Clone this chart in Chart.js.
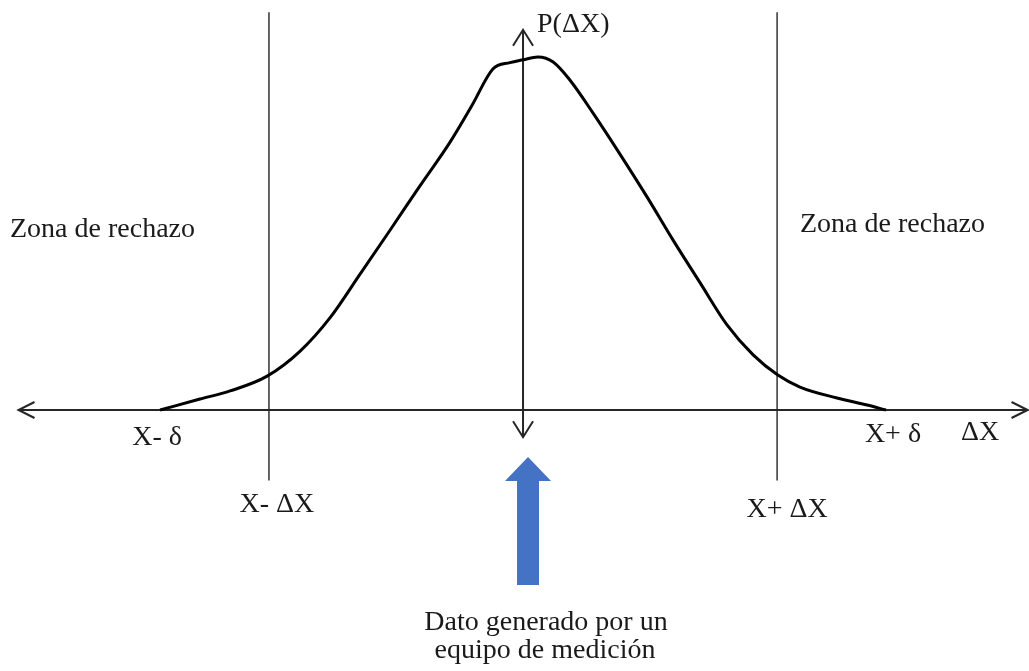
<!DOCTYPE html>
<html>
<head>
<meta charset="utf-8">
<script src="https://cdn.jsdelivr.net/npm/chart.js@4/dist/chart.umd.min.js"></script>
<style>
  html, body { margin: 0; padding: 0; background: #fff; }
  canvas { display: block; }
</style>
</head>
<body>
<canvas id="dist" width="1029" height="671"></canvas>
<script>
// tolerance limits (units of ΔX axis)
var delta = 10;
var deltaX = 7;

// probability curve P(ΔX)
var curveX = [-10, -8.9, -8.07, -7.05, -6.14, -5.32, -4.49, -3.66, -2.84, -2.01, -1.40, -0.83, -0.36, 0, 0.41,
              0.83, 1.29, 1.93, 2.67, 3.42, 4.13, 4.88, 5.62, 6.34, 7.02, 7.63, 8.65, 9.48, 10];
var curveY = [0, 0.031, 0.054, 0.096, 0.167, 0.261, 0.385, 0.510, 0.635, 0.759, 0.864, 0.966, 0.984, 0.992, 1.0,
              0.986, 0.935, 0.841, 0.725, 0.603, 0.482, 0.360, 0.241, 0.156, 0.099, 0.065, 0.034, 0.014, 0];

// axis extents
var axisX = [-13.9, 13.9];
var axisY = [-0.077, 1.077];
var limitY = [-0.2, 1.127];

var limitLabels = ['X- δ', 'X- ΔX', 'X+ ΔX', 'X+ δ'];

var colors = {
    curve: '#000000',
    axis: '#262626',
    limit: '#333333',
    text: '#1a1a1a',
    arrow: '#4472C4'
};

var font = '28px "Liberation Serif", "Times New Roman", serif';

function seg(xs, ys) {
    return xs.map(function (x, i) { return { x: x, y: ys[i] }; });
}

var datasets = [];

datasets.push({
    label: 'P(ΔX)',
    data: seg(curveX, curveY),
    borderColor: colors.curve,
    borderWidth: 3,
    cubicInterpolationMode: 'monotone',
    pointRadius: 0,
    fill: false
});
datasets.push({
    label: 'eje x',
    data: seg(axisX, [0, 0]),
    borderColor: colors.axis,
    borderWidth: 2,
    pointRadius: 0
});
datasets.push({
    label: 'eje y',
    data: seg([0, 0], axisY),
    borderColor: colors.axis,
    borderWidth: 2,
    pointRadius: 0
});
datasets.push({
    label: 'X- ΔX',
    data: seg([-deltaX, -deltaX], limitY),
    borderColor: colors.limit,
    borderWidth: 1.5,
    pointRadius: 0
});
datasets.push({
    label: 'X+ ΔX',
    data: seg([deltaX, deltaX], limitY),
    borderColor: colors.limit,
    borderWidth: 1.5,
    pointRadius: 0
});

// arrow heads, labels and the blue pointer
var decor = {
    id: 'decor',
    afterDatasetsDraw: function (chart) {
        var ctx = chart.ctx;
        var xs = chart.scales.x, ys = chart.scales.y;
        var px = function (v) { return xs.getPixelForValue(v); };
        var py = function (v) { return ys.getPixelForValue(v); };

        ctx.save();
        ctx.strokeStyle = colors.axis;
        ctx.lineWidth = 2;
        ctx.lineJoin = 'miter';
        function chevron(tx, ty, dx, dy, nx, ny) {
            ctx.beginPath();
            ctx.moveTo(tx + dx + nx, ty + dy + ny);
            ctx.lineTo(tx, ty);
            ctx.lineTo(tx + dx - nx, ty + dy - ny);
            ctx.stroke();
        }
        var y0 = py(0), x0 = px(0);
        chevron(px(axisX[0]), y0, 16, 0, 0, 8);
        chevron(px(axisX[1]), y0, -16, 0, 0, 8);
        chevron(x0, py(axisY[1]), 0, 16, 10, 0);
        chevron(x0, py(axisY[0]), 0, -16, 10, 0);

        // blue block arrow under the centre
        var ax = x0 + 5;
        ctx.fillStyle = colors.arrow;
        ctx.beginPath();
        ctx.moveTo(ax, 457);
        ctx.lineTo(ax + 23, 481);
        ctx.lineTo(ax + 11, 481);
        ctx.lineTo(ax + 11, 585);
        ctx.lineTo(ax - 11, 585);
        ctx.lineTo(ax - 11, 481);
        ctx.lineTo(ax - 23, 481);
        ctx.closePath();
        ctx.fill();

        ctx.fillStyle = colors.text;
        ctx.font = font;
        ctx.textBaseline = 'alphabetic';

        ctx.textAlign = 'left';
        ctx.fillText('Zona de rechazo', 10, 237);
        ctx.fillText('Zona de rechazo', 800, 232);
        ctx.fillText('P(ΔX)', x0 + 14, 32);

        ctx.textAlign = 'center';
        ctx.fillText(limitLabels[0], px(-delta) - 3, 445);
        ctx.fillText(limitLabels[1], px(-deltaX) + 8, 512);
        ctx.fillText(limitLabels[2], px(deltaX) + 10, 517);
        ctx.fillText(limitLabels[3], px(delta) + 7, 442);
        ctx.fillText('ΔX', 980, 440);

        ctx.fillText('Dato generado por un', 546, 630);
        ctx.fillText('equipo de medición', 545, 658);
        ctx.restore();
    }
};

var chart = new Chart(document.getElementById('dist'), {
    type: 'line',
    data: { datasets: datasets },
    options: {
        responsive: false,
        animation: false,
        devicePixelRatio: 1,
        layout: { padding: 0 },
        clip: false,
        plugins: { legend: { display: false }, tooltip: { enabled: false } },
        scales: {
            x: { type: 'linear', min: -14.41, max: 13.94, display: false },
            y: { type: 'linear', min: -0.7394, max: 1.1615, display: false }
        }
    },
    plugins: [decor]
});
</script>
</body>
</html>
